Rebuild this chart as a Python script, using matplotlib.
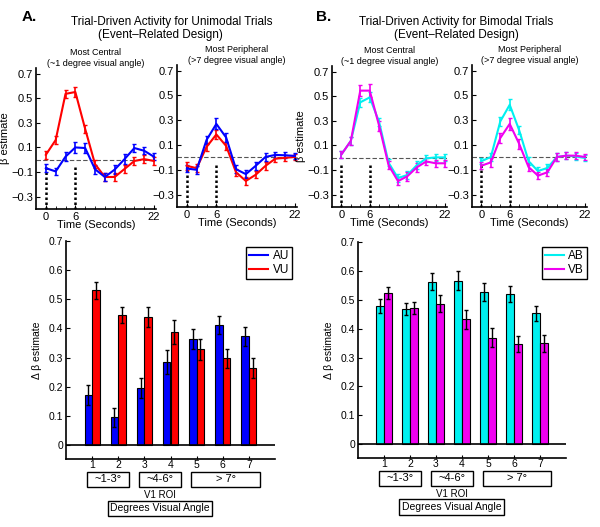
import numpy as np
import matplotlib
matplotlib.use("Agg")
import matplotlib.pyplot as plt
import matplotlib.patches as mpatches
from matplotlib.transforms import blended_transform_factory

plt.rcParams["font.family"] = ["Liberation Sans", "DejaVu Sans"]
plt.rcParams["axes.unicode_minus"] = True

# ---- time courses (seconds) ----
time_s = [0, 2, 4, 6, 8, 10, 12, 14, 16, 18, 20, 22]

# unimodal, most central
vu_central = [0.04, 0.16, 0.535, 0.55, 0.25, -0.035, -0.14, -0.14, -0.075, -0.01, 0.005, -0.01]
vu_central_err = [0.03, 0.03, 0.035, 0.04, 0.035, 0.035, 0.03, 0.03, 0.03, 0.03, 0.03, 0.03]
au_central = [-0.068, -0.095, 0.025, 0.10, 0.095, -0.077, -0.14, -0.08, 0.005, 0.095, 0.073, 0.024]
au_central_err = [0.035, 0.03, 0.035, 0.045, 0.04, 0.035, 0.03, 0.035, 0.04, 0.035, 0.03, 0.03]

# unimodal, most peripheral
vu_periph = [-0.068, -0.087, 0.084, 0.185, 0.092, -0.12, -0.19, -0.14, -0.068, -0.01, -0.004, 0.004]
vu_periph_err = [0.03, 0.03, 0.03, 0.035, 0.03, 0.03, 0.03, 0.03, 0.03, 0.03, 0.025, 0.025]
au_periph = [-0.09, -0.10, 0.14, 0.27, 0.16, -0.095, -0.135, -0.068, 0.004, 0.02, 0.017, 0.012]
au_periph_err = [0.03, 0.03, 0.035, 0.045, 0.035, 0.03, 0.03, 0.03, 0.03, 0.025, 0.025, 0.025]

# bimodal, most central
vb_central = [0.027, 0.137, 0.545, 0.545, 0.26, -0.06, -0.19, -0.15, -0.078, -0.03, -0.045, -0.045]
vb_central_err = [0.03, 0.03, 0.045, 0.05, 0.04, 0.035, 0.035, 0.035, 0.035, 0.03, 0.03, 0.03]
ab_central = [0.027, 0.137, 0.45, 0.49, 0.29, -0.04, -0.165, -0.14, -0.06, -0.005, 0.003, 0.003]
ab_central_err = [0.03, 0.03, 0.035, 0.04, 0.035, 0.03, 0.03, 0.035, 0.03, 0.03, 0.03, 0.03]

# bimodal, most peripheral
vb_periph = [-0.067, -0.04, 0.156, 0.27, 0.11, -0.078, -0.147, -0.12, 0.003, 0.014, 0.014, 0.003]
vb_periph_err = [0.03, 0.035, 0.04, 0.05, 0.04, 0.03, 0.03, 0.03, 0.03, 0.03, 0.03, 0.025]
ab_periph = [-0.03, 0.003, 0.29, 0.424, 0.22, -0.03, -0.11, -0.085, 0.003, 0.014, 0.008, -0.005]
ab_periph_err = [0.025, 0.03, 0.035, 0.045, 0.035, 0.03, 0.03, 0.03, 0.03, 0.03, 0.025, 0.025]

# ---- bar data (V1 ROI 1..7) ----
roi = [1, 2, 3, 4, 5, 6, 7]
au_bar = [0.173, 0.095, 0.195, 0.284, 0.364, 0.413, 0.373]
au_bar_err = [0.034, 0.032, 0.034, 0.042, 0.034, 0.031, 0.033]
vu_bar = [0.531, 0.446, 0.438, 0.389, 0.329, 0.298, 0.263]
vu_bar_err = [0.030, 0.029, 0.034, 0.041, 0.036, 0.033, 0.034]
ab_bar = [0.478, 0.468, 0.562, 0.566, 0.528, 0.520, 0.453]
ab_bar_err = [0.023, 0.022, 0.029, 0.033, 0.031, 0.029, 0.026]
vb_bar = [0.522, 0.470, 0.487, 0.432, 0.369, 0.347, 0.349]
vb_bar_err = [0.021, 0.021, 0.029, 0.032, 0.032, 0.029, 0.029]

angle_groups = ["~1-3°", "~4-6°", "> 7°"]
group_first = [1, 3, 5]
group_last = [2, 4, 7]

RED, BLUE, CYAN, MAGENTA = "#ff0000", "#0000ff", "#00f0f0", "#f000f0"
W, H = 600, 527

fig = plt.figure(figsize=(6, 5.27), dpi=100)
fig.patch.set_facecolor("white")


def px_axes(l, t, r, b):
    return fig.add_axes([l / W, 1 - b / H, (r - l) / W, (b - t) / H])


def style_axes(ax):
    for s in ("top", "right"):
        ax.spines[s].set_visible(False)
    for s in ("left", "bottom"):
        ax.spines[s].set_linewidth(1.2)
    ax.tick_params(direction="in", length=3, width=0.8, labelsize=8, pad=2)


def time_panel(ax, series, title, ylabel=True):
    style_axes(ax)
    ax.axhline(0, color="#555555", lw=0.8, ls=(0, (4, 2)), zorder=1)
    for tx in (0, 6):
        ax.plot([tx, tx], [-0.06, -0.4], color="black", lw=1.8, ls=(0, (1, 1)), zorder=1)
    for y, e, c in series:
        ax.errorbar(time_s, y, yerr=e, color=c, lw=1.5, elinewidth=1.2,
                    capsize=1.5, capthick=1, zorder=3)
    ax.set_xlim(-2, 22.4)
    ax.set_ylim(-0.4, 0.745)
    ax.set_yticks([0.7, 0.5, 0.3, 0.1, -0.1, -0.3])
    ax.set_yticklabels(["0.7", "0.5", "0.3", "0.1", "\u22120.1", "\u22120.3"])
    ax.set_xticks([0, 6, 22])
    ax.set_xticks(time_s, minor=True)
    ax.tick_params(axis="x", which="minor", direction="in", length=2)
    ax.set_xlabel("Time (Seconds)", fontsize=8, labelpad=-1)
    if ylabel:
        ax.set_ylabel("\u03b2 estimate", fontsize=8, labelpad=1)
    ax.set_title(title, fontsize=6.5, pad=1, linespacing=1.25)


def bar_panel(ax, a, ae, v, ve, ca, cv, labels):
    style_axes(ax)
    w = 0.29
    xa = [r - w / 2 for r in roi]
    xv = [r + w / 2 for r in roi]
    ax.bar(xa, a, width=w, color=ca, edgecolor="black", lw=0.8, label=labels[0], zorder=2)
    ax.bar(xv, v, width=w, color=cv, edgecolor="black", lw=0.8, label=labels[1], zorder=2)
    ax.errorbar(xa, a, yerr=ae, fmt="none", ecolor="black", elinewidth=1, capsize=1.5, zorder=3)
    ax.errorbar(xv, v, yerr=ve, fmt="none", ecolor="black", elinewidth=1, capsize=1.5, zorder=3)
    ax.axhline(0, color="black", lw=1.2, zorder=4)
    ax.set_xlim(0, 8)
    ax.set_ylim(-0.048, 0.7)
    ax.set_yticks([0, 0.1, 0.2, 0.3, 0.4, 0.5, 0.6, 0.7])
    ax.set_yticklabels(["0", "0.1", "0.2", "0.3", "0.4", "0.5", "0.6", "0.7"])
    ax.set_xticks(roi)
    ax.tick_params(labelsize=7.5)
    ax.tick_params(axis="x", direction="in", length=2, pad=1)
    ax.set_ylabel("\u0394 \u03b2 estimate", fontsize=7.5, labelpad=5)
    tr = blended_transform_factory(ax.transData, ax.transAxes)
    for name, g0, g1 in zip(angle_groups, group_first, group_last):
        x0, x1 = g0 - 0.2, g1 + 0.42
        ax.add_patch(mpatches.Rectangle((x0, -0.13), x1 - x0, 0.072, transform=tr,
                                        fill=False, ec="black", lw=1, clip_on=False))
        ax.text((x0 + x1) / 2, -0.094, name, transform=tr, ha="center", va="center",
                fontsize=8)
    ax.text(3.6, -0.167, "V1 ROI", transform=tr, ha="center", va="center", fontsize=7)
    ax.text(3.6, -0.227, "Degrees Visual Angle", transform=tr, ha="center", va="center",
            fontsize=7.5, bbox=dict(boxstyle="square,pad=0.25", fc="white", ec="black", lw=1))
    return ax


# ---- panel A ----
a1 = px_axes(36, 68, 156, 209)
time_panel(a1, [(vu_central, vu_central_err, RED), (au_central, au_central_err, BLUE)],
           "Most Central\n(~1 degree visual angle)")
a2 = px_axes(177, 65, 297, 207)
time_panel(a2, [(vu_periph, vu_periph_err, RED), (au_periph, au_periph_err, BLUE)],
           "Most Peripheral\n(>7 degree visual angle)", ylabel=False)
a3 = px_axes(66, 241, 275, 459)
bar_panel(a3, au_bar, au_bar_err, vu_bar, vu_bar_err, BLUE, RED, ["AU", "VU"])

# ---- panel B ----
b1 = px_axes(332, 66, 447, 207)
time_panel(b1, [(ab_central, ab_central_err, CYAN), (vb_central, vb_central_err, MAGENTA)],
           "Most Central\n(~1 degree visual angle)")
b2 = px_axes(472, 65, 587, 207)
time_panel(b2, [(ab_periph, ab_periph_err, CYAN), (vb_periph, vb_periph_err, MAGENTA)],
           "Most Peripheral\n(>7 degree visual angle)", ylabel=False)
b3 = px_axes(358, 242, 566, 458)
bar_panel(b3, ab_bar, ab_bar_err, vb_bar, vb_bar_err, CYAN, MAGENTA, ["AB", "VB"])

# legends with line handles
for ax, names, cols, x_right in ((a3, ["AU", "VU"], [BLUE, RED], 292),
                                 (b3, ["AB", "VB"], [CYAN, MAGENTA], 587)):
    handles = [plt.Line2D([], [], color=c, lw=1.5) for c in cols]
    fig.legend(handles, names, loc="upper right", bbox_to_anchor=(x_right / W, 1 - 247 / H),
               fontsize=8.5, frameon=True, fancybox=False, edgecolor="black",
               framealpha=1, handlelength=1.6, handletextpad=0.4, borderpad=0.25,
               labelspacing=0.2, borderaxespad=0)

# headings
fig.text(29 / W, 1 - 17 / H, "A.", fontsize=11, fontweight="bold", ha="center", va="center")
fig.text(324 / W, 1 - 17 / H, "B.", fontsize=11, fontweight="bold", ha="center", va="center")
fig.text(172 / W, 1 - 22 / H, "Trial-Driven Activity for Unimodal Trials", fontsize=8.5,
         ha="center", va="center")
fig.text(160 / W, 1 - 35 / H, "(Event\u2013Related Design)", fontsize=8.5, ha="center", va="center")
fig.text(456 / W, 1 - 22 / H, "Trial-Driven Activity for Bimodal Trials", fontsize=8.5,
         ha="center", va="center")
fig.text(456 / W, 1 - 35 / H, "(Event\u2013Related Design)", fontsize=8.5, ha="center", va="center")

fig.savefig("out.png", dpi=100, facecolor="white")
